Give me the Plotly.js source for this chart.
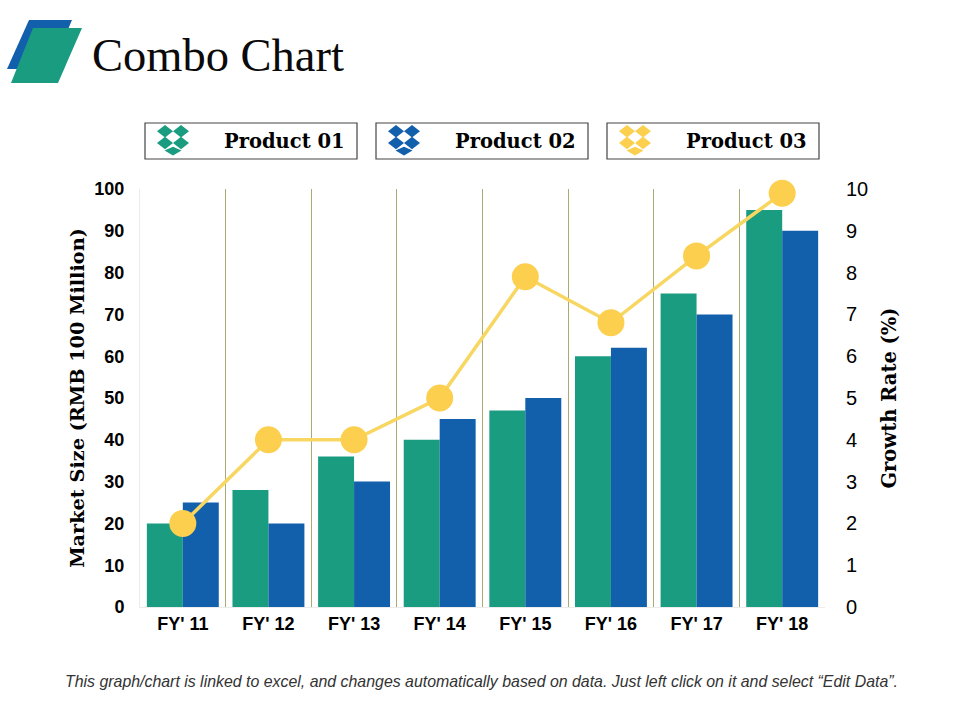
<!DOCTYPE html>
<html><head><meta charset="utf-8">
<script src="https://cdn.plot.ly/plotly-3.0.1.min.js"></script>
<style>html,body{margin:0;padding:0;background:#fff}</style></head>
<body><div id="chart" style="width:960px;height:720px"></div>
<script>
const categories = ["FY' 11","FY' 12","FY' 13","FY' 14","FY' 15","FY' 16","FY' 17","FY' 18"];
const product01 = [20,28,36,40,47,60,75,95];
const product02 = [25,20,30,45,50,62,70,90];
const product03 = [2,4,4,5,7.9,6.8,8.4,9.9];
const seriesNames = ["Product 01","Product 02","Product 03"];
const seriesColors = ["#1a9c80","#125fac","#fdcf4f"];
const legendBoxes = [[145,357],[376,588],[607,819]];
const PL=140,PR=825,PT=189,PB=607;
const X=p=>(p-PL)/(PR-PL), Y=p=>(PB-p)/(PB-PT);
const poly=(pts,fill)=>({type:'path',xref:'paper',yref:'paper',fillcolor:fill,line:{width:0},
  path:'M'+pts.map(p=>X(p[0]).toFixed(5)+','+Y(p[1]).toFixed(5)).join('L')+'Z'});
const shapes=[
  poly([[29,20],[72,20],[51,69],[7,69]],seriesColors[1]),
  poly([[33,28],[82,28],[58,83],[11,83]],seriesColors[0])
];
const annotations=[];
const SERIF='"DejaVu Serif",serif';
const txt=(t,x,y,o)=>annotations.push(Object.assign({text:t,xref:'paper',yref:'paper',x:X(x),y:Y(y),showarrow:false,xanchor:'left',yanchor:'middle'},o));
txt('Combo Chart',90,55,{font:{family:'"Liberation Serif",serif',size:46.5,color:'#0a0a0a'}});
legendBoxes.forEach((b,i)=>{
  const c=seriesColors[i], o=b[0]-145;
  shapes.push({type:'rect',xref:'paper',yref:'paper',x0:X(b[0]),x1:X(b[1]),y0:Y(123),y1:Y(159),line:{color:'#444',width:1.2},fillcolor:'#fff'});
  const cx=173+o, d=(x,y)=>[[x-8,y],[x,y-6.2],[x+8,y],[x,y+6.2]];
  shapes.push(poly(d(cx-8,131.3),c),poly(d(cx+8,131.3),c),poly(d(cx-8,143),c),poly(d(cx+8,143),c));
  shapes.push(poly([[cx-8.5,150.5],[cx,146.8],[cx+8.5,150.5],[cx,155.5]],c));
  txt(seriesNames[i],b[1]-10,142,{xanchor:'right',font:{family:SERIF,size:19.5,color:'#000',weight:700}});
});
txt('This graph/chart is linked to excel, and changes automatically based on data. Just left click on it and select “Edit Data”.',481,681,{xanchor:'center',font:{family:'"Liberation Sans",Arial,sans-serif',size:15.9,color:'#333',style:'italic'}});

const traces=[
 {type:'bar',x:categories,y:product01,name:seriesNames[0],marker:{color:seriesColors[0],line:{width:0}},yaxis:'y'},
 {type:'bar',x:categories,y:product02,name:seriesNames[1],marker:{color:seriesColors[1],line:{width:0}},yaxis:'y'},
 {type:'scatter',mode:'lines+markers',x:categories,y:product03,name:seriesNames[2],yaxis:'y2',cliponaxis:false,
  line:{color:'#f7d762',width:3.5},marker:{color:seriesColors[2],size:27}}
];
const layout={
 width:960,height:720,margin:{l:PL,r:960-PR,t:PT,b:720-PB,pad:0},
 paper_bgcolor:'#fff',plot_bgcolor:'#fff',showlegend:false,barmode:'group',bargap:0.16,bargroupgap:0,
 font:{family:'"Liberation Sans",Arial,sans-serif',color:'#000'},
 xaxis:{type:'category',range:[-0.5,7.5],tickson:'boundaries',showgrid:true,gridcolor:'#a9ab72',gridwidth:1,ticks:'outside',ticklen:8,tickcolor:'rgba(0,0,0,0)',
  showline:true,linecolor:'#ececec',linewidth:1,tickfont:{size:18,color:'#000',weight:700},automargin:false},
 yaxis:{range:[0,100],dtick:10,showgrid:false,zeroline:false,showline:true,linecolor:'#ececec',linewidth:1,
  ticks:'outside',ticklen:11,tickcolor:'rgba(0,0,0,0)',tickfont:{size:18,color:'#000',weight:700},automargin:false,
  title:{text:'Market Size (RMB 100 Million)',standoff:4,font:{family:SERIF,size:19.3,color:'#000',weight:700}}},
 yaxis2:{range:[0,10],dtick:1,overlaying:'y',side:'right',showgrid:false,zeroline:false,showline:false,
  ticks:'outside',ticklen:16,tickcolor:'rgba(0,0,0,0)',tickfont:{size:20,color:'#000'},automargin:false,
  title:{text:'Growth Rate (%)',standoff:15,font:{family:SERIF,size:19.5,color:'#000',weight:700}}},
 shapes:shapes,annotations:annotations
};
Plotly.newPlot('chart',traces,layout,{displayModeBar:false,responsive:false});
</script></body></html>
